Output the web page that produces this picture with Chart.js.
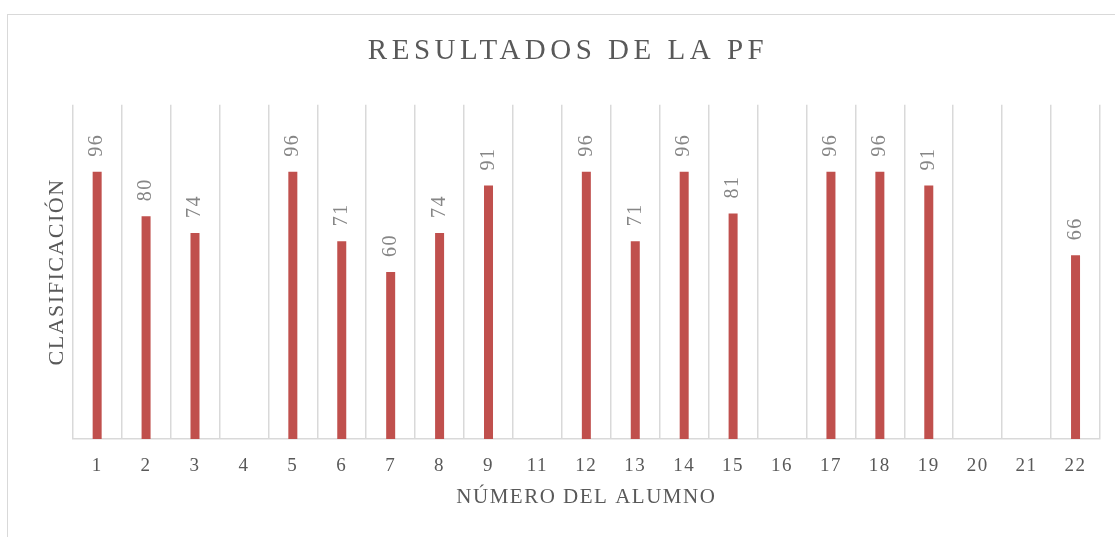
<!DOCTYPE html>
<html><head><meta charset="utf-8">
<script src="https://cdn.jsdelivr.net/npm/chart.js@4"></script>
<style>
html,body{margin:0;padding:0;background:#fff;}
#wrap{position:relative;width:1115px;height:537px;overflow:hidden;background:#fff;}
#frame{position:absolute;left:7px;top:14px;width:1200px;height:600px;border-left:1px solid #d9d9d9;border-top:1px solid #d9d9d9;box-sizing:border-box;}
canvas{position:absolute;left:0;top:0;}
</style></head><body>
<div id="wrap"><div id="frame"></div><canvas id="c" width="1115" height="537"></canvas></div>
<script>
const categories = ['1','2','3','4','5','6','7','8','9','11','12','13','14','15','16','17','18','19','20','21','22'];
const scores = [96, 80, 74, null, 96, 71, 60, 74, 91, null, 96, 71, 96, 81, null, 96, 96, 91, null, null, 66];
const chartTitle = 'RESULTADOS DE LA PF';
const xTitle = 'NÚMERO DEL ALUMNO';
const yTitle = 'CLASIFICACIÓN';
const yMin = 0, yMax = 120;

const FONT = "'Liberation Serif','Times New Roman',serif";
Chart.defaults.font.family = FONT;

const spacingPlugin = {
  id: 'spacing',
  beforeDraw(chart) {
    chart.ctx.letterSpacing = '1.5px';
    const tb = chart.titleBlock;
    if (tb && !tb._patched) {
      const orig = tb.draw.bind(tb);
      tb.draw = function () {
        const ctx = chart.ctx;
        ctx.save();
        ctx.letterSpacing = '4.5px';
        ctx.translate(18, 0);
        orig();
        ctx.restore();
      };
      tb._patched = true;
    }
  }
};

const labelPlugin = {
  id: 'barLabels',
  afterDatasetsDraw(chart) {
    const ctx = chart.ctx;
    const meta = chart.getDatasetMeta(0);
    const data = chart.data.datasets[0].data;
    ctx.save();
    ctx.font = "20px " + FONT;
    ctx.fillStyle = '#868686';
    ctx.textAlign = 'left';
    ctx.textBaseline = 'middle';
    ctx.letterSpacing = '1.5px';
    meta.data.forEach((bar, i) => {
      const v = data[i];
      if (v == null) return;
      ctx.save();
      ctx.translate(bar.x, bar.y - 15);
      ctx.rotate(-Math.PI / 2);
      ctx.fillText(String(v), 0, 0);
      ctx.restore();
    });
    ctx.restore();
  }
};

new Chart(document.getElementById('c'), {
  type: 'bar',
  data: {
    labels: categories,
    datasets: [{
      data: scores,
      backgroundColor: '#C0504D',
      barPercentage: 0.184,
      categoryPercentage: 1.0
    }]
  },
  options: {
    responsive: false,
    animation: false,
    devicePixelRatio: 1,
    layout: { padding: { left: 0, right: 15, top: 0, bottom: 0 } },
    plugins: {
      legend: { display: false },
      tooltip: { enabled: false },
      title: {
        display: true, text: chartTitle, color: '#595959',
        font: { size: 29, weight: 'normal', family: FONT },
        padding: { top: 34, bottom: 36 }
      }
    },
    scales: {
      x: {
        grid: { color: '#d9d9d9', lineWidth: 1.5, drawTicks: false, offset: true },
        border: { color: '#d9d9d9', width: 1.5 },
        ticks: { color: '#595959', font: { size: 19 }, padding: 16, maxRotation: 0, autoSkip: false },
        title: { display: true, text: xTitle, color: '#595959', font: { size: 21 }, padding: { top: 0, bottom: 27 } },
        afterFit(s) { s.height = 98; }
      },
      y: {
        min: yMin, max: yMax,
        ticks: { display: false },
        grid: { display: false },
        border: { display: false },
        title: { display: true, text: yTitle, color: '#595959', font: { size: 22 }, padding: { top: 44, bottom: 0 } },
        afterFit(s) { s.width = 72.7; }
      }
    }
  },
  plugins: [spacingPlugin, labelPlugin]
});
</script>
</body></html>
